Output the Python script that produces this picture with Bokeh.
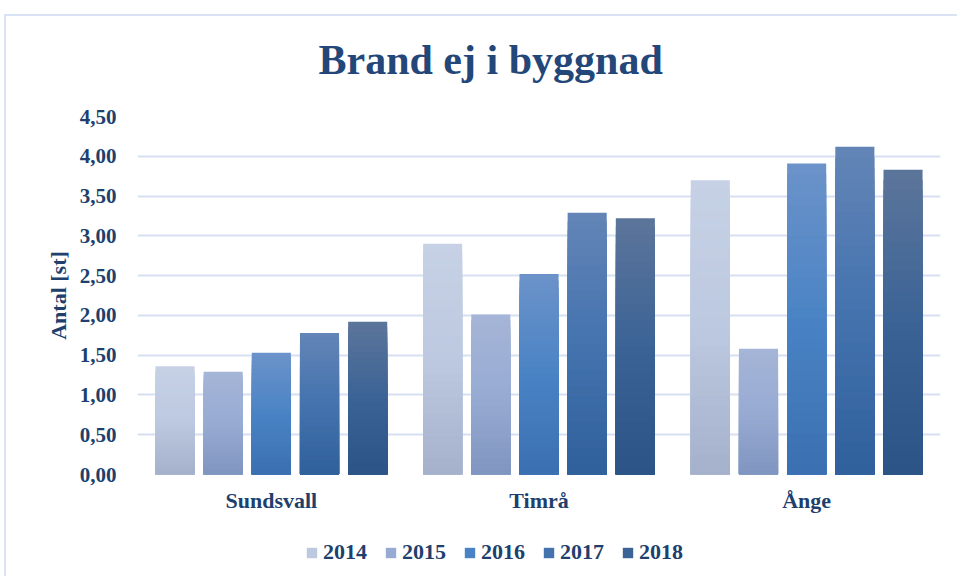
from bokeh.plotting import figure
from bokeh.layouts import column
from bokeh.models import FactorRange, ColumnDataSource, Legend, LegendItem, FixedTicker, Range1d
from bokeh.transform import dodge
from bokeh.embed import file_html
from bokeh.resources import INLINE

# ---- data ----
cities = ["Sundsvall", "Timrå", "Ånge"]
years = ["2014", "2015", "2016", "2017", "2018"]
v2014 = [1.36, 2.90, 3.70]
v2015 = [1.29, 2.01, 1.58]
v2016 = [1.53, 2.52, 3.91]
v2017 = [1.78, 3.29, 4.12]
v2018 = [1.92, 3.22, 3.83]
series = [v2014, v2015, v2016, v2017, v2018]
tick_values = [0.0, 0.5, 1.0, 1.5, 2.0, 2.5, 3.0, 3.5, 4.0, 4.5]
tick_labels = ["0,00", "0,50", "1,00", "1,50", "2,00", "2,50", "3,00", "3,50", "4,00", "4,50"]

# ---- styles ----
# (top, middle, bottom) gradient stops per year
grads = [
    ("#c6d1e5", "#bdc9e0", "#a5b1cb"),
    ("#a5b5d7", "#98abd3", "#7f95bf"),
    ("#6c93c9", "#4a83c5", "#3a70b1"),
    ("#6385b7", "#4473ae", "#30609c"),
    ("#5c759a", "#3b6396", "#2b5386"),
]
offsets = [-0.36, -0.18, 0.0, 0.18, 0.36]
BAR_W = 0.146
N = 30
TEXT = "#203f6d"
FONT = "Liberation Serif"
FRAME_LINE = "#dae3f3"


def hex2rgb(h):
    h = h.lstrip("#")
    return tuple(int(h[i:i + 2], 16) for i in (0, 2, 4))


def mix(a, b, t):
    ra, rb = hex2rgb(a), hex2rgb(b)
    return "#%02x%02x%02x" % tuple(int(round(ra[i] + (rb[i] - ra[i]) * t)) for i in range(3))


def grad_color(stops, t):
    # t = 1 top, 0 bottom
    top, mid, bot = stops
    if t >= 0.5:
        return mix(mid, top, (t - 0.5) / 0.5)
    return mix(bot, mid, t / 0.5)


p = figure(
    x_range=FactorRange(*cities, range_padding=0),
    y_range=Range1d(0, 4.5),
    width=957, height=530,
    output_backend="svg", toolbar_location=None,
    min_border_left=137, min_border_right=17, min_border_top=116, min_border_bottom=56,
)
p.outline_line_color = None
p.background_fill_color = "white"
p.border_fill_alpha = 0

p.title.text = "Brand ej i byggnad"
p.title.text_font = FONT
p.title.text_font_size = "42px"
p.title.text_font_style = "bold"
p.title.text_color = "#24477a"
p.title.align = "left"
p.title.offset = 181
p.title.standoff = 67

for yi, (yr, vals) in enumerate(zip(years, series)):
    xs, tops, cols = [], [], []
    for k in range(N):
        t = (N - k - 0.5) / N
        c = grad_color(grads[yi], t)
        for ci, city in enumerate(cities):
            xs.append(city)
            tops.append(vals[ci] * (N - k) / N)
            cols.append(c)
    src = ColumnDataSource(dict(city=xs, top=tops, color=cols))
    p.vbar(x=dodge("city", offsets[yi], range=p.x_range), top="top", bottom=0,
           width=BAR_W, fill_color="color", line_color=None, source=src)

# grid
p.xgrid.grid_line_color = None
p.ygrid.grid_line_color = "#d6e0f2"
p.ygrid.grid_line_width = 2

# axes
p.yaxis.ticker = FixedTicker(ticks=tick_values)
p.yaxis.major_label_overrides = dict(zip(tick_values, tick_labels))
p.yaxis.axis_label = "Antal [st]"
for ax in (p.xaxis[0], p.yaxis[0]):
    ax.axis_line_color = None
    ax.major_tick_line_color = None
    ax.minor_tick_line_color = None
    ax.major_label_text_font = FONT
    ax.major_label_text_font_style = "bold"
    ax.major_label_text_color = TEXT
    ax.axis_label_text_font = FONT
    ax.axis_label_text_font_style = "bold"
    ax.axis_label_text_color = TEXT
    ax.axis_label_text_font_size = "22px"
p.yaxis.major_label_text_font_size = "21px"
p.xaxis.major_label_text_font_size = "22px"
p.yaxis.major_label_standoff = 15
p.yaxis.axis_label_standoff = 6
p.xaxis.major_label_standoff = 7

# ---- legend strip (separate figure below) ----
lg = figure(x_range=FactorRange(*years), y_range=Range1d(0, 1),
            width=957, height=46, output_backend="svg", toolbar_location=None,
            min_border=0)
lg.axis.visible = False
lg.grid.visible = False
lg.outline_line_color = None
lg.background_fill_alpha = 0
lg.border_fill_alpha = 0
items = []
for yi, yr in enumerate(years):
    r = lg.vbar(x=[yr], top=[0], bottom=0, width=0.5,
                fill_color=grads[yi][1], line_color=None)
    items.append(LegendItem(label=yr, renderers=[r]))
legend = Legend(items=items, orientation="horizontal", location=(168, 11),
                glyph_width=13, glyph_height=13, label_standoff=5, spacing=17,
                padding=0, margin=0, border_line_color=None, background_fill_alpha=0,
                label_text_font=FONT, label_text_font_style="bold",
                label_text_font_size="22px", label_text_color=TEXT, label_height=13)
lg.add_layout(legend, "center")

# light chart-area border (top and left edges), drawn as the page background
border_css = (
    f"linear-gradient({FRAME_LINE},{FRAME_LINE}) 4px 14px / 2px 100% no-repeat, "
    f"linear-gradient({FRAME_LINE},{FRAME_LINE}) 4px 14px / 100% 2px no-repeat, white"
)
layout = column(p, lg, spacing=0, styles={"background": border_css})
open("out.html", "w").write(file_html(layout, INLINE))
